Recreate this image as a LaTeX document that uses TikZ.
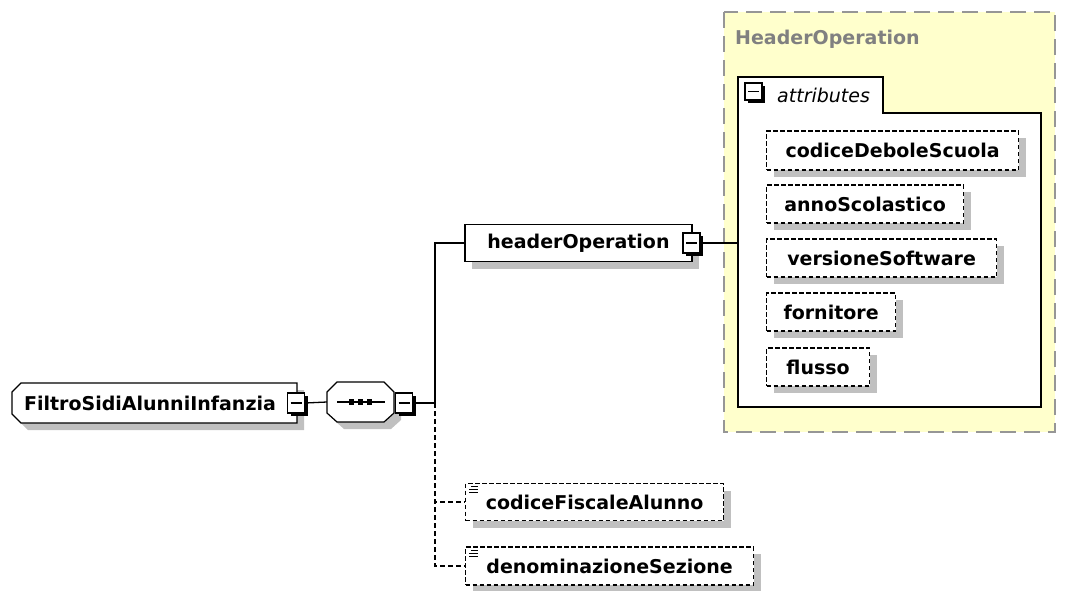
\documentclass[tikz,border=0pt]{standalone}
\usepackage{fontspec}
\setmainfont{DejaVu Sans}
\usetikzlibrary{shadows}
\definecolor{grpfill}{RGB}{255,255,204}
\definecolor{grpline}{RGB}{150,150,150}
\definecolor{grptext}{RGB}{128,128,128}
\definecolor{shadowgray}{RGB}{192,192,192}
\tikzset{l/.style={font=\bfseries\fontsize{19}{19}\selectfont}}
\tikzset{shd/.style={drop shadow={fill=shadowgray,opacity=1,shadow xshift=7pt,shadow yshift=-7pt}}}
\tikzset{el/.style={l,draw,fill=white,line width=1.2pt,inner sep=0pt,shd}}
\tikzset{opt/.style={el,dash pattern=on 4.5pt off 2.5pt}}
\tikzset{mbox/.style={draw,fill=white,line width=1.2pt,minimum width=17pt,minimum height=20pt,inner sep=0pt,
  drop shadow={fill=black,opacity=1,shadow xshift=3pt,shadow yshift=-3pt},
  path picture={\draw[line width=1.8pt] ([xshift=3pt]path picture bounding box.west) -- ([xshift=-3pt]path picture bounding box.east);}}}
\tikzset{conn/.style={line width=1.3pt}}
\tikzset{dconn/.style={line width=1.3pt,dash pattern=on 5pt off 3pt}}
\begin{document}
\begin{tikzpicture}[x=1pt,y=-1pt,line join=miter]
  \useasboundingbox (0,0) rectangle (1075,590);
  \draw[grpline,fill=grpfill,line width=1.5pt,dash pattern=on 16pt off 8pt] (724,12) rectangle (1055,432);
  \node[l,text=grptext,anchor=west,inner sep=0pt] (grpttl) at (735,39) {HeaderOperation};
  \draw[line width=1.6pt,fill=white] (738,407) -- (738,77) -- (883,77) -- (883,113) -- (1041,113) -- (1041,407) -- cycle;
  \coordinate (attrin) at (738,243);
  \node[mbox,minimum width=17pt,minimum height=17pt] (attm) at (753.5,91.5) {};
  \node[font=\itshape\fontsize{19}{19}\selectfont,anchor=west,inner sep=0pt] (attl) at (777,95) {attributes};

  \node[opt,anchor=west,minimum width=252pt,minimum height=39pt] (cds) at (766,150.5) {codiceDeboleScuola};
  \node[opt,anchor=west,minimum width=197pt,minimum height=38pt] (asc) at (766,204) {annoScolastico};
  \node[opt,anchor=west,minimum width=230pt,minimum height=38pt] (vsw) at (766,258) {versioneSoftware};
  \node[opt,anchor=west,minimum width=129pt,minimum height=38pt] (frn) at (766,312) {fornitore};
  \node[opt,anchor=west,minimum width=103pt,minimum height=38pt] (fls) at (766,367) {flusso};

  \fill[shadowgray] (28,390) -- (304,390) -- (304,430) -- (28,430) -- (19,421) -- (19,399) -- cycle;
  \draw[line width=1.2pt,fill=white] (21,383) -- (297,383) -- (297,423) -- (21,423) -- (12,414) -- (12,392) -- cycle;
  \node[l,inner sep=0pt] (root) at (150,403) {FiltroSidiAlunniInfanzia};
  \node[mbox] (rootm) at (296,403) {};
  \fill[shadowgray] (344,389) -- (391,389) -- (401,399) -- (401,420) -- (391,429) -- (344,429) -- (334,420) -- (334,399) -- cycle;
  \draw[line width=1.2pt,fill=white] (337,382) -- (384,382) -- (394,392) -- (394,413) -- (384,422) -- (337,422) -- (327,413) -- (327,392) -- cycle;
  \node[inner sep=0pt,minimum width=67pt,minimum height=40pt] (seq) at (360.5,402) {};
  \draw[line width=1.3pt] ([xshift=-23.5pt]seq.center) -- ([xshift=24.5pt]seq.center);
  \foreach \dx in {-9,0,9}
    \fill ([xshift=\dx pt]seq.center) +(-2.7,-2.7) rectangle +(2.7,2.7);
  \node[mbox] (seqm) at (404,403) {};
  \coordinate (bus) at (435,403);

  \node[el,minimum width=227pt,minimum height=37pt] (ho) at (578.5,243) {headerOperation};
  \node[mbox] (hom) at (691.5,243) {};
  \node[opt,anchor=west,minimum width=258pt,minimum height=37pt] (cfa) at (465,502) {codiceFiscaleAlunno};
  \node[opt,anchor=west,minimum width=288pt,minimum height=38pt] (den) at (465,566) {denominazioneSezione};
  \foreach \n in {cfa,den}
    \draw[line width=0.9pt] ([xshift=6pt,yshift=-4pt]\n.north west) -- ++(7,0)
      ([xshift=4pt,yshift=-7pt]\n.north west) -- ++(9,0)
      ([xshift=4pt,yshift=-10pt]\n.north west) -- ++(9,0);

  \draw[conn] (rootm.east) -- (seq.west);
  \draw[conn] (seqm.east) -- (bus);
  \draw[conn] (bus) |- (ho.west);
  \draw[conn] (hom.east) -- (attrin);
  \draw[dconn] (bus) |- (cfa.west);
  \draw[dconn] (bus) |- (den.west);
\end{tikzpicture}
\end{document}
